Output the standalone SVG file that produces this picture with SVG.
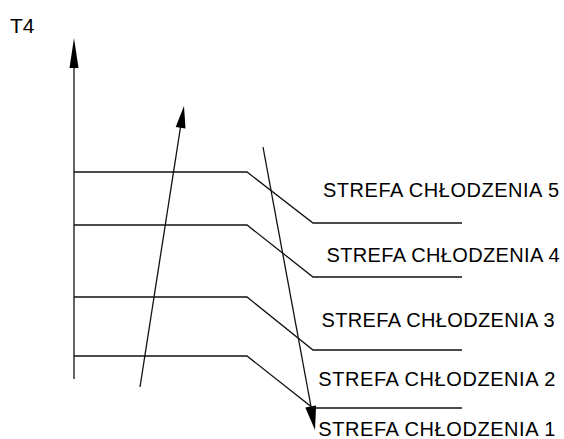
<svg xmlns="http://www.w3.org/2000/svg" width="564" height="439" viewBox="0 0 564 439">
<style>
.ln{fill:none;stroke:#111;stroke-width:1.3}
.ah{fill:#000;stroke:none}
.lb{font-family:"Liberation Sans",Arial,sans-serif;font-size:20px;fill:#000}
</style>
<rect width="564" height="439" fill="#fff"/>
<g id="connectors">
<line class="ln" x1="74" y1="379" x2="74" y2="60"/>
<polygon class="ah" points="74,38 78.5,68 69.5,68"/>
<line class="ln" x1="140" y1="387" x2="181" y2="124"/>
<polygon class="ah" points="184,106 185.5,128.5 175.7,126.9"/>
<line class="ln" x1="263" y1="147" x2="312" y2="412"/>
<polygon class="ah" points="315,430 316.1,405.4 305.3,407.4"/>
</g>
<g id="zone5"><polyline class="ln" points="74,172 247,172 313,223 462,223"/><text class="lb" x="323" y="196.5" textLength="236">STREFA CHŁODZENIA 5</text></g>
<g id="zone4"><polyline class="ln" points="74,225 247,225 313,277 462,277"/><text class="lb" x="326.5" y="261.5" textLength="233">STREFA CHŁODZENIA 4</text></g>
<g id="zone3"><polyline class="ln" points="74,297 247,297 313,350 462,350"/><text class="lb" x="321.5" y="327" textLength="233">STREFA CHŁODZENIA 3</text></g>
<g id="zone2"><polyline class="ln" points="74,356 247,356 313,408 462,408"/><text class="lb" x="318.3" y="386" textLength="237">STREFA CHŁODZENIA 2</text></g>
<g id="zone1"><text class="lb" x="318.3" y="436" textLength="237">STREFA CHŁODZENIA 1</text></g>
<g id="axis-label"><text class="lb" x="10" y="33" style="font-size:21px">T4</text></g>
</svg>
